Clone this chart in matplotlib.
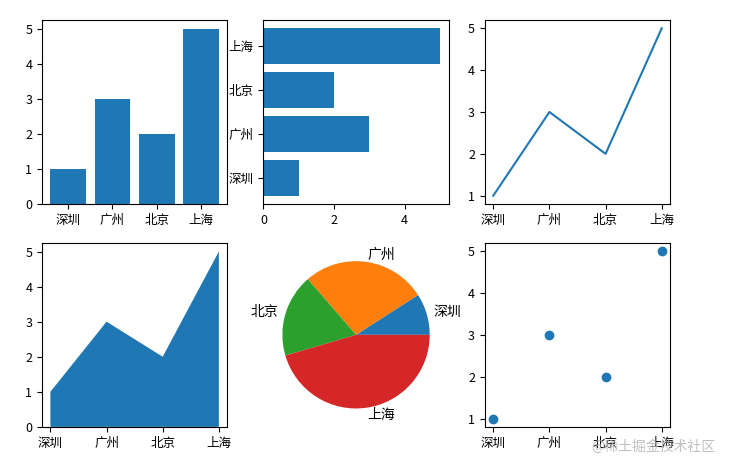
import matplotlib
matplotlib.use('Agg')
import matplotlib.pyplot as plt

plt.rcParams['font.family'] = ['Noto Sans CJK SC', 'DejaVu Sans']
plt.rcParams['axes.unicode_minus'] = False

cities = ['深圳', '广州', '北京', '上海']
values = [1, 3, 2, 5]

fig, axes = plt.subplots(2, 3, figsize=(7.30, 4.63), dpi=100)
fig.subplots_adjust(left=0.0575, right=0.918, top=0.957, bottom=0.078,
                    wspace=0.195, hspace=0.21)

# bar
axes[0, 0].bar(cities, values)

# horizontal bar
axes[0, 1].barh(cities, values)

# line
axes[0, 2].plot(cities, values)

# area
axes[1, 0].stackplot(cities, values)

# pie
axes[1, 1].pie(values, labels=cities)

# scatter
axes[1, 2].scatter(cities, values)

for ax in axes.flat:
    ax.tick_params(labelsize=9)

fig.text(0.98, 0.035, '@稀土掘金技术社区', ha='right', va='center',
         fontsize=10, color='#b0b0b0', alpha=0.8)

fig.savefig('out.png')
